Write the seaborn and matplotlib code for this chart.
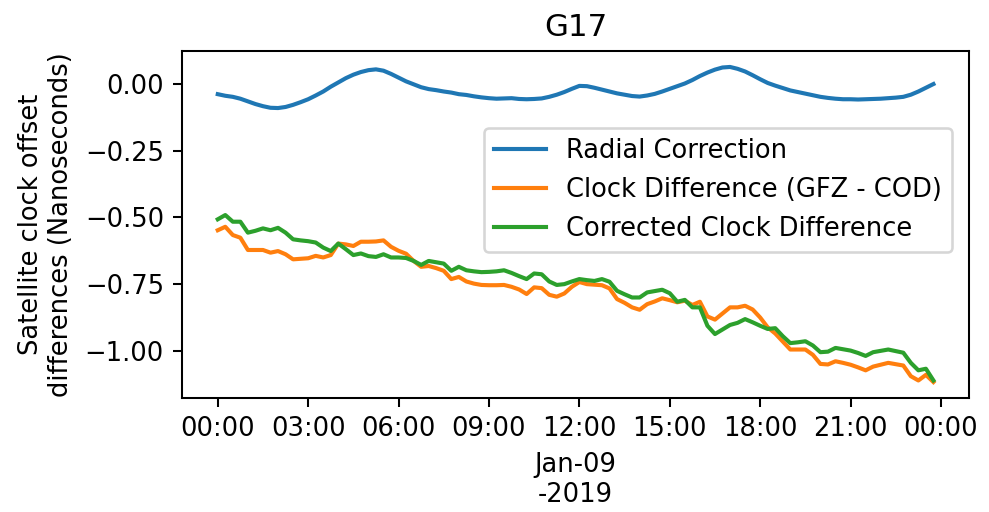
import pandas as pd
import matplotlib
matplotlib.use("Agg")
import matplotlib.pyplot as plt
import matplotlib.dates as mdates
import matplotlib.ticker as mticker
import seaborn as sns

# 15-minute epochs on 2019-01-09
times = pd.date_range("2019-01-09 00:00", periods=96, freq="15min")

radial_correction = [
    -0.038, -0.044, -0.048, -0.055, -0.065, -0.075, -0.083, -0.089, -0.090, -0.086,
    -0.078, -0.068, -0.057, -0.043, -0.028, -0.010, 0.006, 0.022, 0.035, 0.045,
    0.052, 0.055, 0.050, 0.038, 0.024, 0.010, -0.001, -0.012, -0.019, -0.023,
    -0.028, -0.032, -0.038, -0.041, -0.046, -0.050, -0.053, -0.055, -0.054, -0.053,
    -0.056, -0.057, -0.056, -0.054, -0.048, -0.040, -0.030, -0.018, -0.007, -0.008,
    -0.014, -0.021, -0.028, -0.035, -0.040, -0.045, -0.047, -0.043, -0.037, -0.028,
    -0.018, -0.008, 0.002, 0.015, 0.030, 0.043, 0.054, 0.062, 0.064, 0.057,
    0.047, 0.033, 0.018, 0.004, -0.006, -0.015, -0.024, -0.030, -0.036, -0.042,
    -0.048, -0.052, -0.055, -0.057, -0.057, -0.058, -0.057, -0.056, -0.055, -0.053,
    -0.051, -0.048, -0.040, -0.028, -0.014, 0.000,
]

clock_difference = [
    -0.548, -0.535, -0.566, -0.576, -0.622, -0.622, -0.622, -0.632, -0.626, -0.638,
    -0.657, -0.655, -0.653, -0.644, -0.650, -0.641, -0.598, -0.601, -0.607, -0.591,
    -0.591, -0.590, -0.586, -0.610, -0.625, -0.636, -0.663, -0.685, -0.682, -0.690,
    -0.700, -0.731, -0.723, -0.740, -0.748, -0.753, -0.754, -0.754, -0.753, -0.760,
    -0.770, -0.787, -0.762, -0.765, -0.790, -0.797, -0.785, -0.760, -0.742, -0.750,
    -0.752, -0.754, -0.766, -0.806, -0.820, -0.837, -0.846, -0.825, -0.815, -0.803,
    -0.810, -0.818, -0.812, -0.828, -0.816, -0.871, -0.883, -0.860, -0.837, -0.837,
    -0.831, -0.845, -0.875, -0.912, -0.935, -0.965, -0.995, -0.995, -0.995, -1.015,
    -1.049, -1.051, -1.039, -1.045, -1.052, -1.062, -1.073, -1.059, -1.052, -1.045,
    -1.050, -1.055, -1.095, -1.111, -1.090, -1.117,
]

corrected_difference = [
    -0.507, -0.491, -0.516, -0.516, -0.557, -0.550, -0.541, -0.548, -0.539, -0.557,
    -0.582, -0.586, -0.589, -0.594, -0.613, -0.626, -0.598, -0.619, -0.641, -0.635,
    -0.645, -0.648, -0.638, -0.650, -0.650, -0.652, -0.663, -0.678, -0.663, -0.668,
    -0.673, -0.700, -0.685, -0.698, -0.702, -0.705, -0.704, -0.702, -0.698, -0.708,
    -0.720, -0.731, -0.710, -0.713, -0.740, -0.753, -0.750, -0.740, -0.731, -0.735,
    -0.738, -0.731, -0.741, -0.775, -0.788, -0.800, -0.800, -0.781, -0.776, -0.771,
    -0.784, -0.816, -0.809, -0.837, -0.837, -0.906, -0.937, -0.920, -0.903, -0.895,
    -0.881, -0.893, -0.906, -0.918, -0.915, -0.945, -0.971, -0.968, -0.964, -0.980,
    -1.005, -1.003, -0.989, -0.994, -0.999, -1.008, -1.019, -1.005, -1.000, -0.995,
    -1.001, -1.007, -1.045, -1.073, -1.067, -1.111,
]

series_names = [
    "Radial Correction",
    "Clock Difference (GFZ - COD)",
    "Corrected Clock Difference",
]

df = pd.concat([
    pd.DataFrame({"time": times, "value": radial_correction, "series": series_names[0]}),
    pd.DataFrame({"time": times, "value": clock_difference, "series": series_names[1]}),
    pd.DataFrame({"time": times, "value": corrected_difference, "series": series_names[2]}),
])

DPI = 185
fig, ax = plt.subplots(figsize=(989 / DPI, 512 / DPI), dpi=DPI)
fig.subplots_adjust(left=0.184, right=0.980, top=0.900, bottom=0.223)

sns.lineplot(data=df, x="time", y="value", hue="series", hue_order=series_names,
             palette=["#1f77b4", "#ff7f0e", "#2ca02c"], linewidth=1.6, ax=ax)

ax.xaxis.set_major_locator(mdates.HourLocator(byhour=range(0, 24, 3)))
ax.xaxis.set_major_formatter(mdates.DateFormatter("%H:%M"))
ax.yaxis.set_major_locator(mticker.MultipleLocator(0.25))

ax.set_title("G17")
ax.set_xlabel("Jan-09\n-2019")
ax.set_ylabel("Satellite clock offset\ndifferences (Nanoseconds)")

handles, labels = ax.get_legend_handles_labels()
ax.legend(handles, labels, loc="upper right", bbox_to_anchor=(0.995, 0.816))

fig.savefig("out.png", dpi=DPI)
